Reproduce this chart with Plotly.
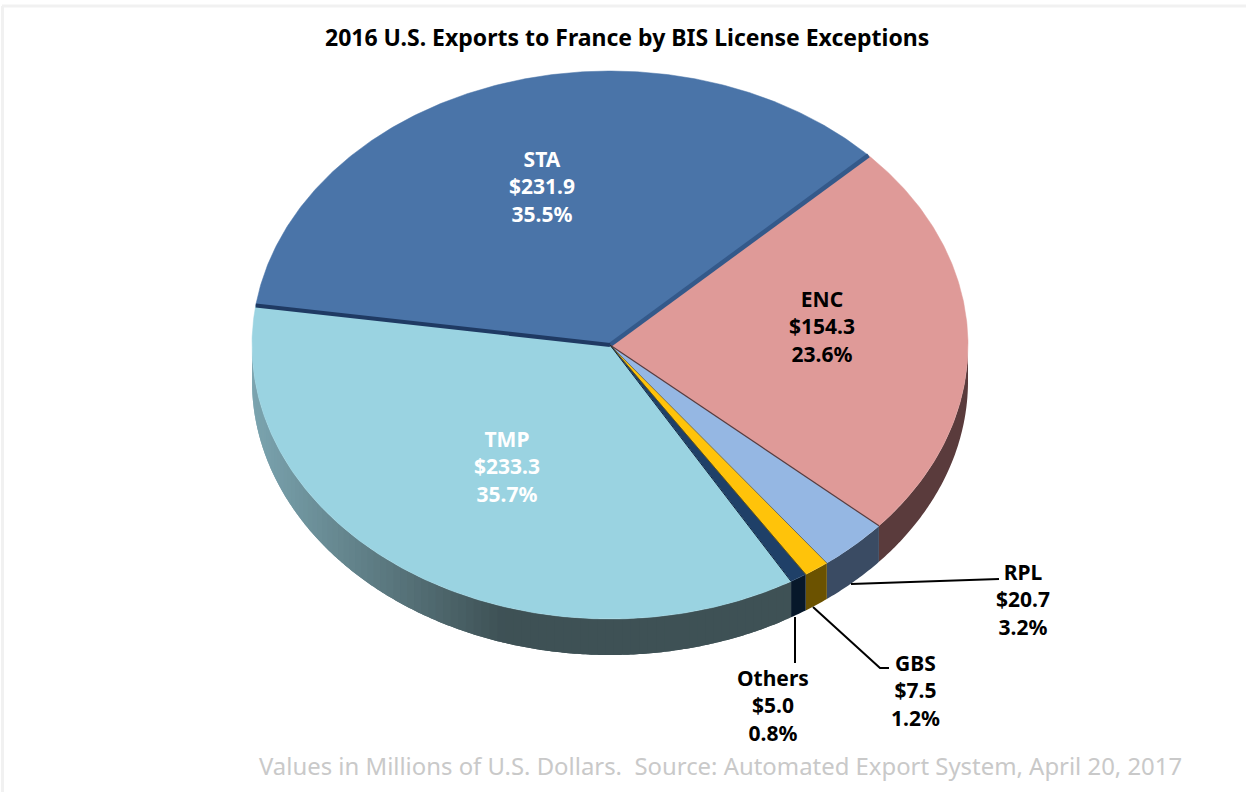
import numpy as np
import plotly.graph_objects as go

# Data, clockwise from the ENC slice
categories = ["ENC", "RPL", "GBS", "Others", "TMP", "STA"]
values = [154.3, 20.7, 7.5, 5.0, 233.3, 231.9]
percents = ["23.6%", "3.2%", "1.2%", "0.8%", "35.7%", "35.5%"]
title_text = "2016 U.S. Exports to France by BIS License Exceptions"
source_text = "Values in Millions of U.S. Dollars.  Source: Automated Export System, April 20, 2017"

# Styles
top_colors = ["#df9a98", "#95b7e3", "#ffc30a", "#1f4068", "#9ad3e1", "#4a74a8"]
wall_colors = ["#5a3b3c", "#3a4b63", "#6b5200", "#07182a", None, None]
label_colors = ["#000000", "#000000", "#000000", "#000000", "#ffffff", "#ffffff"]
label_x = [822, 1023, 915, 773, 507, 542]
label_y = [326, 599, 690, 705, 466, 186]
FONT = "Noto Sans"

# Geometry of the tilted pie
CX, CY, RX, RY, DEPTH, START = 610, 345, 358, 274, 36, 46.2


def arc(t0, t1, drop=0.0, n=None):
    n = n or max(2, int(abs(t1 - t0) * 2) + 2)
    t = np.radians(np.linspace(t0, t1, n))
    return CX + RX * np.sin(t), CY - RY * np.cos(t) + drop


def mix(a, b, f):
    ca = [int(a[i:i + 2], 16) for i in (1, 3, 5)]
    cb = [int(b[i:i + 2], 16) for i in (1, 3, 5)]
    return "rgb(%d,%d,%d)" % tuple(round(p + (q - p) * f) for p, q in zip(ca, cb))


fig = go.Figure()
total = sum(values)
edges = START + np.concatenate([[0], np.cumsum(values)]) / total * 360.0


def add_wall(t0, t1, color):
    x0, y0 = arc(t0, t1)
    x1, y1 = arc(t1, t0, DEPTH)
    fig.add_trace(go.Scatter(
        x=np.concatenate([x0, x1]), y=np.concatenate([y0, y1]), mode="none",
        fill="toself", fillcolor=color, hoverinfo="skip", showlegend=False))


# Side walls (front half only); each gradient strip overlaps the next to avoid seams
for i, c in enumerate(categories):
    t0, t1 = edges[i], edges[i + 1]
    t0v, t1v = max(t0, 90), min(t1, 270)
    if t1v <= t0v:
        continue
    if wall_colors[i]:
        add_wall(t0v, t1v, wall_colors[i])
    else:
        steps = np.linspace(t0v, t1v, 90)
        step = steps[1] - steps[0]
        for a, b in zip(steps[:-1], steps[1:]):
            xm = CX + RX * np.sin(np.radians((a + b) / 2))
            f = np.clip((xm - 253) / 250.0, 0, 1)
            add_wall(a, min(b + step, t1v), mix("#7ba4af", "#3e5155", f))

# Top faces
for i, c in enumerate(categories):
    ax, ay = arc(edges[i], edges[i + 1])
    fig.add_trace(go.Scatter(
        x=np.concatenate([[CX], ax, [CX]]), y=np.concatenate([[CY], ay, [CY]]),
        mode="lines", fill="toself", fillcolor=top_colors[i],
        line=dict(color=top_colors[i], width=0.5), name=c,
        text=f"{c} ${values[i]:.1f} {percents[i]}", hoverinfo="text", showlegend=False))


def seam(t, color, width):
    px, py = arc(t, t, n=2)
    fig.add_trace(go.Scatter(x=[CX, px[0]], y=[CY, py[0]], mode="lines",
                             line=dict(color=color, width=width),
                             hoverinfo="skip", showlegend=False))


# Slice separators: the raised STA slice shows its dark edges
seam(edges[0], "#34598a", 4.5)
seam(edges[1], "#5a3b3c", 1.2)
seam(edges[2], "#4a5a70", 0.8)
seam(edges[3], "#6b5200", 0.8)
seam(edges[4], "#10243f", 1.0)
seam(edges[5], "#1f3a63", 4)

# Leader lines
for lx, ly in [([851, 999], [584, 579]),
               ([813, 880, 889], [607, 668, 668]),
               ([795, 795], [617, 663])]:
    fig.add_trace(go.Scatter(x=lx, y=ly, mode="lines", line=dict(color="#000000", width=2),
                             hoverinfo="skip", showlegend=False))

# Data labels: one multi-line text per slice
annotations = []
for i, c in enumerate(categories):
    annotations.append(dict(
        x=label_x[i], y=label_y[i], xref="x", yref="y", showarrow=False, align="center",
        text=f"<b>{c}<br>${values[i]:.1f}<br>{percents[i]}</b>",
        font=dict(family=FONT, size=21, color=label_colors[i])))
annotations.append(dict(x=626.5, y=37, xref="x", yref="y", showarrow=False,
                        text=f"<b>{title_text}</b>",
                        font=dict(family=FONT, size=23, color="#000000")))
annotations.append(dict(x=720.5, y=765, xref="x", yref="y", showarrow=False,
                        text=source_text,
                        font=dict(family=FONT, size=23.9, color="#c9c9c9")))

fig.update_layout(
    width=1246, height=792, autosize=False,
    margin=dict(l=0, r=0, t=0, b=0),
    paper_bgcolor="#ffffff", plot_bgcolor="#ffffff",
    xaxis=dict(range=[0, 1246], visible=False, fixedrange=True),
    yaxis=dict(range=[792, 0], visible=False, fixedrange=True),
    annotations=annotations,
    shapes=[
        dict(type="line", x0=2, x1=1246, y0=6, y1=6, line=dict(color="#f1f1f1", width=3)),
        dict(type="line", x0=2.5, x1=2.5, y0=6, y1=792, line=dict(color="#f1f1f1", width=3)),
    ],
)
fig.write_html("out.html", config=dict(displayModeBar=False),
               post_script="document.body.style.margin='0';document.body.style.overflow='hidden';")
